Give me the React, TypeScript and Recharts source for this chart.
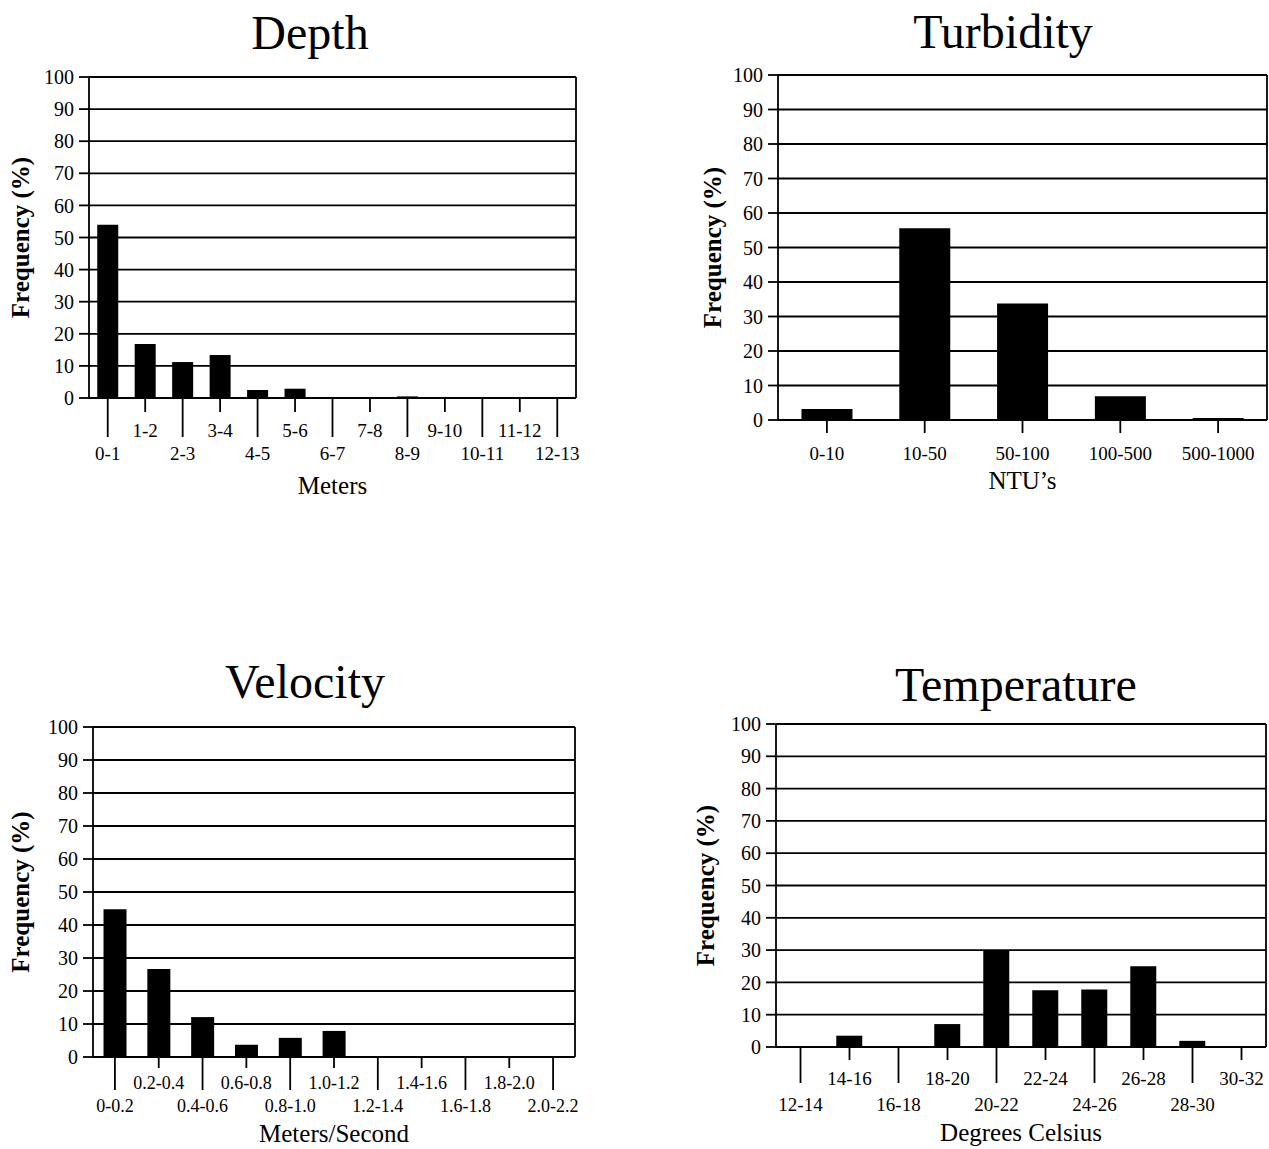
import React from 'react'
import { BarChart, Bar, XAxis, YAxis, CartesianGrid } from 'recharts'

const serif = '"Liberation Serif", "Times New Roman", Times, serif'

const yTicks = [0, 10, 20, 30, 40, 50, 60, 70, 80, 90, 100]

const depthBins = ['0-1', '1-2', '2-3', '3-4', '4-5', '5-6', '6-7', '7-8', '8-9', '9-10', '10-11', '11-12', '12-13']
const depthFreq = [54, 16.8, 11.2, 13.4, 2.5, 2.9, 0, 0, 0.5, 0, 0, 0, 0]

const turbidityBins = ['0-10', '10-50', '50-100', '100-500', '500-1000']
const turbidityFreq = [3.2, 55.6, 33.8, 6.9, 0.6]

const velocityBins = ['0-0.2', '0.2-0.4', '0.4-0.6', '0.6-0.8', '0.8-1.0', '1.0-1.2', '1.2-1.4', '1.4-1.6', '1.6-1.8', '1.8-2.0', '2.0-2.2']
const velocityFreq = [44.8, 26.7, 12.1, 3.7, 5.8, 7.9, 0.3, 0.3, 0.3, 0, 0]

const temperatureBins = ['12-14', '14-16', '16-18', '18-20', '20-22', '22-24', '24-26', '26-28', '28-30', '30-32']
const temperatureFreq = [0, 3.5, 0, 7.1, 29.7, 17.6, 17.8, 25, 1.9, 0]

const LINE = 1.8

type Stagger = { long: number; short: number; upper: number; lower: number } | null

function BinTick(props: any) {
  const { x, y, payload, index, stagger, fontSize } = props
  let len = 13
  let dy = 33
  if (stagger) {
    const low = index % 2 === 0
    len = low ? stagger.long : stagger.short
    dy = low ? stagger.lower : stagger.upper
  }
  return (
    <g>
      <line x1={x} y1={y} x2={x} y2={y + len} stroke="#000" strokeWidth={LINE} />
      <text x={x} y={y + dy} textAnchor="middle" dominantBaseline="central" fill="#000" fontSize={fontSize} fontFamily={serif}>
        {payload.value}
      </text>
    </g>
  )
}

function Panel(p: any) {
  const data = p.bins.map((b: string, i: number) => ({ bin: b, freq: p.freq[i] }))
  return (
    <>
      <div
        style={{
          position: 'absolute',
          left: p.titleX - 200,
          top: p.titleY - 26,
          width: 400,
          textAlign: 'center',
          fontFamily: serif,
          fontSize: 48,
          lineHeight: '52px',
          color: '#000',
        }}
      >
        {p.title}
      </div>
      <div style={{ position: 'absolute', left: p.left, top: p.top }}>
        <BarChart width={p.width} height={p.height} data={data} margin={p.margin} barCategoryGap={p.gap}>
          <CartesianGrid vertical={false} stroke="#000" strokeWidth={LINE} />
          <XAxis
            dataKey="bin"
            height={p.xHeight}
            interval={0}
            tickSize={0}
            tickMargin={0}
            tickLine={false}
            axisLine={{ stroke: '#000', strokeWidth: LINE }}
            tick={(t: any) => <BinTick {...t} stagger={p.stagger} fontSize={p.tickFont} />}
            label={{ value: p.xLabel, position: 'insideTop', offset: p.xLabelOffset, fill: '#000', fontSize: 25, fontFamily: serif }}
          />
          <YAxis
            width={p.yWidth}
            domain={[0, 100]}
            ticks={yTicks}
            interval={0}
            tickSize={10}
            tickMargin={5}
            tickLine={{ stroke: '#000', strokeWidth: LINE }}
            axisLine={{ stroke: '#000', strokeWidth: LINE }}
            tick={{ fill: '#000', fontSize: 20, fontFamily: serif }}
            label={{
              value: 'Frequency (%)',
              angle: -90,
              position: 'insideLeft',
              offset: p.yLabelOffset,
              style: { textAnchor: 'middle', fontWeight: 'bold', fontSize: 25, fontFamily: serif, fill: '#000' },
            }}
          />
          <YAxis yAxisId="edge" orientation="right" width={1} tick={false} tickLine={false} axisLine={{ stroke: '#000', strokeWidth: LINE }} />
          <Bar dataKey="freq" fill="#000" isAnimationActive={false} />
        </BarChart>
      </div>
    </>
  )
}

export default function App() {
  return (
    <div style={{ position: 'absolute', left: 0, top: 0, width: 1269, height: 1149, background: '#fff', overflow: 'hidden' }}>
      <Panel
        title="Depth"
        titleX={310}
        titleY={33}
        left={0}
        top={55}
        width={600}
        height={460}
        margin={{ top: 22, right: 23, left: 0, bottom: 0 }}
        yWidth={89}
        xHeight={117}
        bins={depthBins}
        freq={depthFreq}
        gap="22%"
        stagger={{ long: 39, short: 14, upper: 32, lower: 55 }}
        tickFont={19}
        xLabel="Meters"
        xLabelOffset={78}
        yLabelOffset={20}
      />
      <Panel
        title="Turbidity"
        titleX={1003}
        titleY={32}
        left={640}
        top={55}
        width={629}
        height={460}
        margin={{ top: 20, right: 1, left: 48, bottom: 0 }}
        yWidth={90}
        xHeight={95}
        bins={turbidityBins}
        freq={turbidityFreq}
        gap="24%"
        stagger={null}
        tickFont={19}
        xLabel="NTU’s"
        xLabelOffset={51}
        yLabelOffset={24}
      />
      <Panel
        title="Velocity"
        titleX={305}
        titleY={682}
        left={0}
        top={705}
        width={600}
        height={444}
        margin={{ top: 22, right: 24, left: 0, bottom: 0 }}
        yWidth={93}
        xHeight={92}
        bins={velocityBins}
        freq={velocityFreq}
        gap="24%"
        stagger={{ long: 33, short: 11, upper: 26, lower: 49 }}
        tickFont={18}
        xLabel="Meters/Second"
        xLabelOffset={67}
        yLabelOffset={20}
      />
      <Panel
        title="Temperature"
        titleX={1016}
        titleY={685}
        left={640}
        top={700}
        width={629}
        height={449}
        margin={{ top: 24, right: 2, left: 46, bottom: 0 }}
        yWidth={90}
        xHeight={102}
        bins={temperatureBins}
        freq={temperatureFreq}
        gap="23%"
        stagger={{ long: 36, short: 13, upper: 31, lower: 57 }}
        tickFont={19}
        xLabel="Degrees Celsius"
        xLabelOffset={76}
        yLabelOffset={19}
      />
    </div>
  )
}
